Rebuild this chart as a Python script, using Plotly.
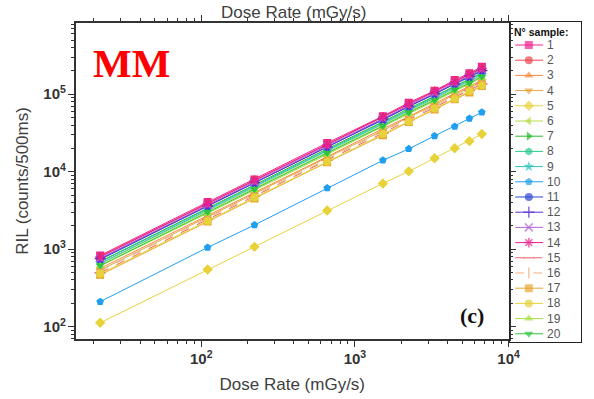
import plotly.graph_objects as go

# Dose rate steps (mGy/s)
dose_rate = [22, 110, 222, 660, 1520, 2240, 3300, 4460, 5560, 6700]

# RIL (counts/500ms) for each sample
ril_1 = [830, 4050, 7950, 23500, 52000, 77800, 111000, 153000, 186000, 226000]
ril_2 = [805, 3900, 7850, 22500, 51500, 74800, 110000, 148000, 184000, 218000]
ril_3 = [565, 2700, 5420, 15600, 35800, 51500, 76300, 101000, 127000, 152000]
ril_4 = [535, 2630, 5180, 15200, 33900, 50500, 72800, 99200, 121000, 147000]
ril_5 = [112, 545, 1070, 3150, 7050, 10100, 14900, 20100, 24800, 30600]
ril_6 = [645, 3080, 6200, 17800, 40800, 59000, 87300, 116000, 145000, 174000]
ril_7 = [695, 3400, 6700, 19700, 44000, 65500, 94200, 128000, 157000, 190000]
ril_8 = [685, 3280, 6580, 18900, 43300, 62800, 92600, 123000, 154000, 185000]
ril_9 = [655, 3210, 6330, 18600, 41500, 61700, 89000, 121000, 148000, 179000]
ril_10 = [210, 1050, 2050, 6150, 14000, 19700, 28800, 38300, 48500, 58500]
ril_11 = [735, 3600, 7100, 20900, 46500, 69200, 99800, 136000, 166000, 201000]
ril_12 = [755, 3610, 7250, 20800, 47800, 69300, 102000, 136000, 171000, 203000]
ril_13 = [765, 3740, 7380, 21700, 48500, 72000, 104000, 141000, 173000, 209000]
ril_14 = [795, 3880, 7720, 22300, 50900, 74000, 109000, 145000, 181000, 216000]
ril_15 = [495, 2430, 4800, 14100, 31400, 46800, 67400, 91800, 112000, 136000]
ril_16 = [525, 2500, 5030, 14500, 33200, 48000, 70900, 94300, 118000, 141000]
ril_17 = [465, 2280, 4500, 13200, 29500, 43900, 63300, 86200, 105000, 128000]
ril_18 = [480, 2310, 4650, 13400, 30600, 44300, 65400, 87100, 109000, 130000]
ril_19 = [605, 2890, 5800, 16700, 38200, 55400, 81700, 109000, 136000, 163000]
ril_20 = [615, 3010, 5950, 17400, 39000, 57900, 83700, 114000, 140000, 168000]

sample_names = [str(i) for i in range(1, 21)]
sample_values = [ril_1, ril_2, ril_3, ril_4, ril_5, ril_6, ril_7, ril_8, ril_9, ril_10,
                 ril_11, ril_12, ril_13, ril_14, ril_15, ril_16, ril_17, ril_18, ril_19, ril_20]

colors = ['#f5208f', '#f0454f', '#f78a3c', '#e4a545', '#e8d23a', '#b4dc4a', '#2cb82c',
          '#2ec98a', '#2ac4c0', '#1e9ff0', '#2f44d6', '#5a2fd0', '#b264d4', '#e8208c',
          '#f0606a', '#f0b080', '#e8a530', '#e6d23a', '#a8e040', '#30c440']
symbols = ['square', 'circle', 'triangle-up', 'triangle-down', 'diamond', 'triangle-left',
           'triangle-right', 'hexagon', 'star', 'pentagon', 'circle', 'cross-thin', 'x-thin',
           'asterisk', 'line-ew', 'line-ns', 'square', 'circle', 'triangle-up', 'triangle-down']
open_symbols = {'cross-thin', 'x-thin', 'asterisk', 'line-ew', 'line-ns'}
dashes = ['solid'] * 14 + ['dash', 'dash'] + ['solid'] * 4

fig = go.Figure()

for name, vals, col, sym, dsh in zip(sample_names, sample_values, colors, symbols, dashes):
    is_open = sym in open_symbols
    fig.add_trace(go.Scatter(
        x=dose_rate, y=vals, mode='lines+markers', name=name, showlegend=False,
        line=dict(color=col, width=1, dash=dsh),
        marker=dict(symbol=sym, size=8, color=col,
                    line=dict(color=col, width=1.5 if is_open else 0)),
        xaxis='x', yaxis='y'))

# Boxed sample key on its own small axes at the right
key_x_line = [0.08, 0.27, 0.47]
for i, (name, col, sym, dsh) in enumerate(zip(sample_names, colors, symbols, dashes)):
    row = i + 1
    is_open = sym in open_symbols
    fig.add_trace(go.Scatter(
        x=key_x_line, y=[row, row, row], mode='lines+markers', showlegend=False,
        hoverinfo='skip',
        line=dict(color=col, width=1, dash=dsh),
        marker=dict(symbol=sym, size=[0, 8, 0], color=col,
                    line=dict(color=col, width=1.5 if is_open else 0)),
        xaxis='x2', yaxis='y2'))
    fig.add_annotation(x=0.5, y=row, xref='x2', yref='y2', text=name, showarrow=False,
                       xanchor='left', yanchor='middle',
                       font=dict(family='Arial, Liberation Sans', size=12, color='#555555'))

fig.add_annotation(x=0.04, y=0.15, xref='x2', yref='y2', text='<b>N° sample:</b>',
                   showarrow=False, xanchor='left', yanchor='middle',
                   font=dict(family='Arial, Liberation Sans', size=10.5, color='#111111'))

axis_col = '#333333'
tick_font = dict(family='Arial, Liberation Sans', size=12, color=axis_col, weight='bold')
title_font = dict(family='Arial, Liberation Sans', size=17, color='#404040')

fig.update_layout(
    width=594, height=399,
    margin=dict(l=76, r=2, t=22, b=57),
    paper_bgcolor='white', plot_bgcolor='white',
    xaxis=dict(
        type='log', range=[1.185, 4.0], domain=[0, 0.8566], dtick=1,
        exponentformat='power', showgrid=False, zeroline=False,
        showline=True, linecolor=axis_col, linewidth=1.5, mirror='ticks',
        ticks='outside', ticklen=6, tickwidth=1.2, tickcolor=axis_col,
        minor=dict(ticks='outside', ticklen=3, tickwidth=1, tickcolor=axis_col,
                   dtick='D1', showgrid=False),
        tickfont=tick_font,
        title=dict(text='Dose Rate (mGy/s)', font=title_font, standoff=12)),
    yaxis=dict(
        type='log', range=[1.84, 5.92], domain=[0.0094, 0.997], dtick=1,
        exponentformat='power', showgrid=False, zeroline=False,
        showline=True, linecolor=axis_col, linewidth=1.5, mirror='ticks',
        ticks='outside', ticklen=6, tickwidth=1.2, tickcolor=axis_col,
        minor=dict(ticks='outside', ticklen=3, tickwidth=1, tickcolor=axis_col,
                   dtick='D1', showgrid=False),
        tickfont=tick_font,
        title=dict(text='RIL (counts/500ms)', font=title_font, standoff=10)),
    xaxis2=dict(
        domain=[0.8585, 1.0], range=[0, 1], anchor='y2',
        showgrid=False, zeroline=False, showticklabels=False, ticks='',
        showline=True, linecolor='#222222', linewidth=1.2, mirror=True, fixedrange=True),
    yaxis2=dict(
        domain=[0, 1], range=[20.54, -0.513], anchor='x2',
        showgrid=False, zeroline=False, showticklabels=False, ticks='',
        showline=True, linecolor='#222222', linewidth=1.2, mirror=True, fixedrange=True),
)

# Top axis title
fig.add_annotation(x=0.43, y=1.031, xref='paper', yref='paper', text='Dose Rate (mGy/s)',
                   showarrow=False, xanchor='center', yanchor='middle', font=title_font)

# Panel labels
fig.add_annotation(x=0.110, y=0.872, xref='paper', yref='paper', text='<b>MM</b>',
                   showarrow=False, xanchor='center', yanchor='middle',
                   font=dict(family='Liberation Serif, Times New Roman', size=41, color='#ff0000'))
fig.add_annotation(x=0.785, y=0.084, xref='paper', yref='paper', text='<b>(c)</b>',
                   showarrow=False, xanchor='center', yanchor='middle',
                   font=dict(family='Liberation Serif, Times New Roman', size=22, color='#111111'))

fig.write_html('out.html')
